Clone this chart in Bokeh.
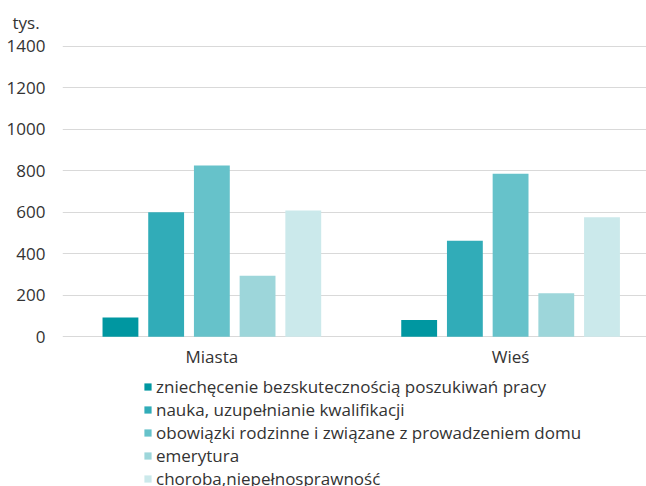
from bokeh.plotting import figure
from bokeh.layouts import column
from bokeh.models import ColumnDataSource, Legend, LegendItem, FixedTicker
from bokeh.embed import file_html
from bokeh.resources import INLINE

categories = ["Miasta", "Wieś"]
series = [
    "zniechęcenie bezskutecznością poszukiwań pracy",
    "nauka, uzupełnianie kwalifikacji",
    "obowiązki rodzinne i związane z prowadzeniem domu",
    "emerytura",
    "choroba,niepełnosprawność",
]
values = [
    [93, 80],
    [600, 463],
    [825, 785],
    [294, 209],
    [608, 576],
]
colors = ["#0097a1", "#31acb8", "#66c2ca", "#9dd6da", "#cbe9eb"]
y_ticks = [0, 200, 400, 600, 800, 1000, 1200, 1400]

FONT = "Open Sans"
TXT = "#333333"
FS = "17px"

p = figure(
    width=646, height=377,
    x_range=(-0.5, 1.455), y_range=(-4, 1404),
    output_backend="svg", toolbar_location=None,
    min_border_left=62, min_border_right=0, min_border_top=45, min_border_bottom=40,
    title="tys.",
)
p.outline_line_color = None
p.background_fill_color = "white"
p.title.align = "left"
p.title.offset = -50
p.title.text_font = FONT
p.title.text_font_size = FS
p.title.text_font_style = "normal"
p.title.text_color = TXT
p.title.standoff = 20
p.title.vertical_align = "top"
p.title.text_line_height = 1.0

step = 0.153
bw = 0.12
for i, (name, vals, col) in enumerate(zip(series, values, colors)):
    xs = [k + (i - 2) * step for k in range(len(categories))]
    src = ColumnDataSource(dict(x=xs, top=vals))
    p.vbar(x="x", top="top", width=bw, source=src, fill_color=col, line_color=None)

p.xaxis.ticker = FixedTicker(ticks=list(range(len(categories))))
p.xaxis.major_label_overrides = {i: c for i, c in enumerate(categories)}
p.yaxis.ticker = FixedTicker(ticks=y_ticks)
for ax in (p.xaxis[0], p.yaxis[0]):
    ax.axis_line_color = None
    ax.major_tick_line_color = None
    ax.minor_tick_line_color = None
    ax.major_tick_out = 0
    ax.major_tick_in = 0
    ax.major_label_text_font = FONT
    ax.major_label_text_font_size = FS
    ax.major_label_text_color = TXT
p.yaxis.major_label_standoff = 17
p.xaxis.major_label_standoff = 7
p.xgrid.grid_line_color = None
p.ygrid.grid_line_color = "#d9d9d9"
p.ygrid.grid_line_width = 1

# legend strip below the chart (its renderers are hidden; only the legend shows)
q = figure(
    width=646, height=109, x_axis_type=None, y_axis_type=None,
    output_backend="svg", toolbar_location=None,
    min_border_left=0, min_border_right=0, min_border_top=0, min_border_bottom=0,
)
q.outline_line_color = None
q.xgrid.grid_line_color = None
q.ygrid.grid_line_color = None
items = []
for i, (name, vals, col) in enumerate(zip(series, values, colors)):
    xs = [k + (i - 2) * step for k in range(len(categories))]
    r = q.vbar(x=xs, top=vals, width=bw, fill_color=col, line_color=None, visible=False)
    items.append(LegendItem(label=name, renderers=[r]))

legend = Legend(items=items, orientation="vertical", location=(81, -4))
legend.label_text_font = FONT
legend.label_text_font_size = FS
legend.label_text_color = TXT
legend.label_text_line_height = 1.0
legend.glyph_width = 9
legend.glyph_height = 9
legend.label_standoff = 4
legend.label_height = 17
try:
    legend.spacing = -2
except Exception:
    legend.spacing = 0
legend.padding = 4
legend.margin = 0
legend.border_line_color = None
legend.background_fill_alpha = 0
q.add_layout(legend, "center")

layout = column(p, q, spacing=0)
open("out.html", "w").write(file_html(layout, INLINE))
